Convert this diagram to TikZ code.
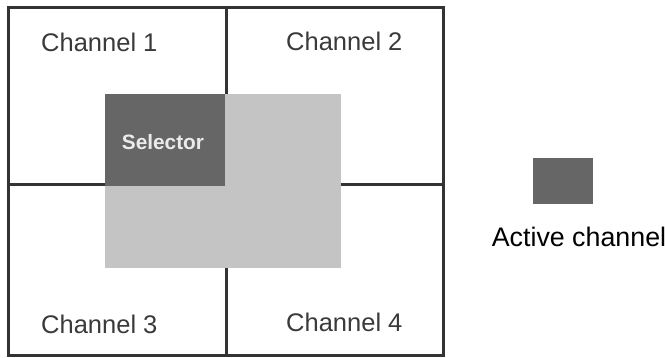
\documentclass[tikz,border=0pt]{standalone}
\usepackage{fontspec}
\setmainfont{Liberation Sans}
\definecolor{linegray}{HTML}{333333}
\definecolor{darkfill}{HTML}{666666}
\definecolor{lightfill}{HTML}{C4C4C4}
\definecolor{labelgray}{HTML}{3A3A3A}
\begin{document}
\begin{tikzpicture}[x=1pt,y=-1pt,
  gridline/.style={draw=linegray,line width=3pt},
  chlabel/.style={font=\fontsize{25.5}{30}\selectfont,text=labelgray,inner sep=0pt},
  legendtext/.style={font=\fontsize{26.8}{31}\selectfont,text=black,inner sep=0pt}]
\useasboundingbox (0,0) rectangle (665,358);
% grid lines
\draw[gridline] (226,8) -- (226,356);
\draw[gridline] (8,185) -- (443,185);
% selector area
\fill[lightfill] (105,94) rectangle (341,268);
\fill[darkfill] (105,94) rectangle (225,186);
\node[font=\bfseries\fontsize{20.8}{24}\selectfont,text=white!92!black,inner sep=0pt] (sel) at (163,142) {Selector};
% outer frame
\draw[gridline] (8,8) rectangle (443,356);
% channel labels
\node[chlabel,anchor=base west] (ch1) at (41,52) {Channel 1};
\node[chlabel,anchor=base west] (ch2) at (286,51) {Channel 2};
\node[chlabel,anchor=base west] (ch3) at (41,334) {Channel 3};
\node[chlabel,anchor=base west] (ch4) at (286,332) {Channel 4};
% legend
\node[fill=darkfill,minimum width=60pt,minimum height=46pt,inner sep=0pt] (legbox) at (563,181) {};
\node[legendtext,anchor=base] (legtxt) at (579,247) {Active channel};
\end{tikzpicture}
\end{document}
